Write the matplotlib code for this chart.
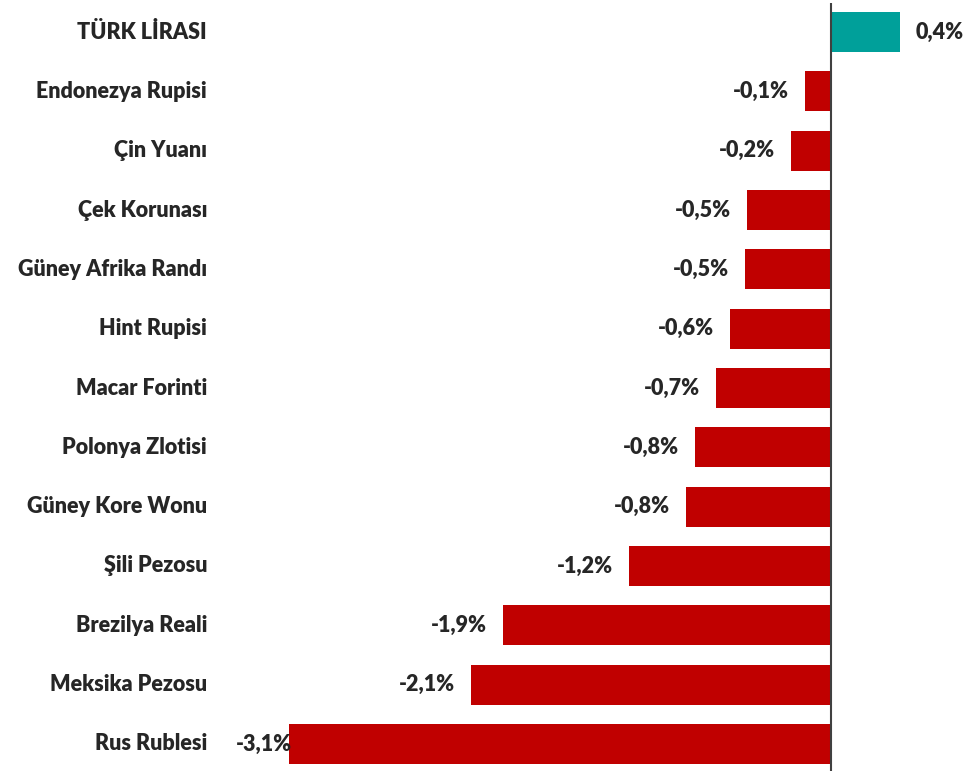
import matplotlib
matplotlib.use("Agg")
import matplotlib.pyplot as plt

# currencies, top to bottom
currencies = ["TÜRK LİRASI", "Endonezya Rupisi", "Çin Yuanı", "Çek Korunası",
              "Güney Afrika Randı", "Hint Rupisi", "Macar Forinti", "Polonya Zlotisi",
              "Güney Kore Wonu", "Şili Pezosu", "Brezilya Reali", "Meksika Pezosu",
              "Rus Rublesi"]
changes = [0.395, -0.149, -0.229, -0.48, -0.49, -0.58, -0.66, -0.78,
           -0.83, -1.156, -1.876, -2.06, -3.1]

plt.rcParams['font.family'] = ['Lato', 'DejaVu Sans']

fig = plt.figure(figsize=(9.72, 7.71), dpi=100)
ax = fig.add_axes([236 / 972, 0, 1 - 236 / 972, 768 / 771])

ypos = list(range(len(currencies)))
colors = ["#00A09A" if v > 0 else "#C00000" for v in changes]
ax.barh(ypos, changes, height=0.67, color=colors, zorder=2)
ax.axvline(0, color="#404040", lw=1.5, zorder=3)

scale = 174.8  # px per percent
ax.set_xlim((236 - 831) / scale, (972 - 831) / scale)
ax.set_ylim(12 + (771 - 744) / 59.33, -(32 - 3) / 59.33)
ax.axis("off")

for i, name in enumerate(currencies):
    fig.text(207 / 972, ax.transData.transform((0, i))[1] / 771, name,
             ha="right", va="center", fontsize=15.5, fontweight="heavy", color="#262626")

renderer = fig.canvas.get_renderer()
for i, v in enumerate(changes):
    lbl = f"{v:.1f}%".replace(".", ",")
    if v > 0:
        t = ax.annotate(lbl, (v, i), xytext=(11.5, 0), textcoords="offset points",
                        ha="left", va="center", fontsize=15.5, fontweight="heavy", color="#262626")
    else:
        t = ax.annotate(lbl, (v, i), xytext=(-11.5, 0), textcoords="offset points",
                        ha="right", va="center", fontsize=15.5, fontweight="heavy", color="#262626")
        bb = t.get_window_extent(renderer)
        if bb.x0 < 236:
            t.set_ha("left")
            t.xy = (ax.get_xlim()[0], i)
            t.set_position((0, 0))

fig.savefig("out.png", dpi=100)
